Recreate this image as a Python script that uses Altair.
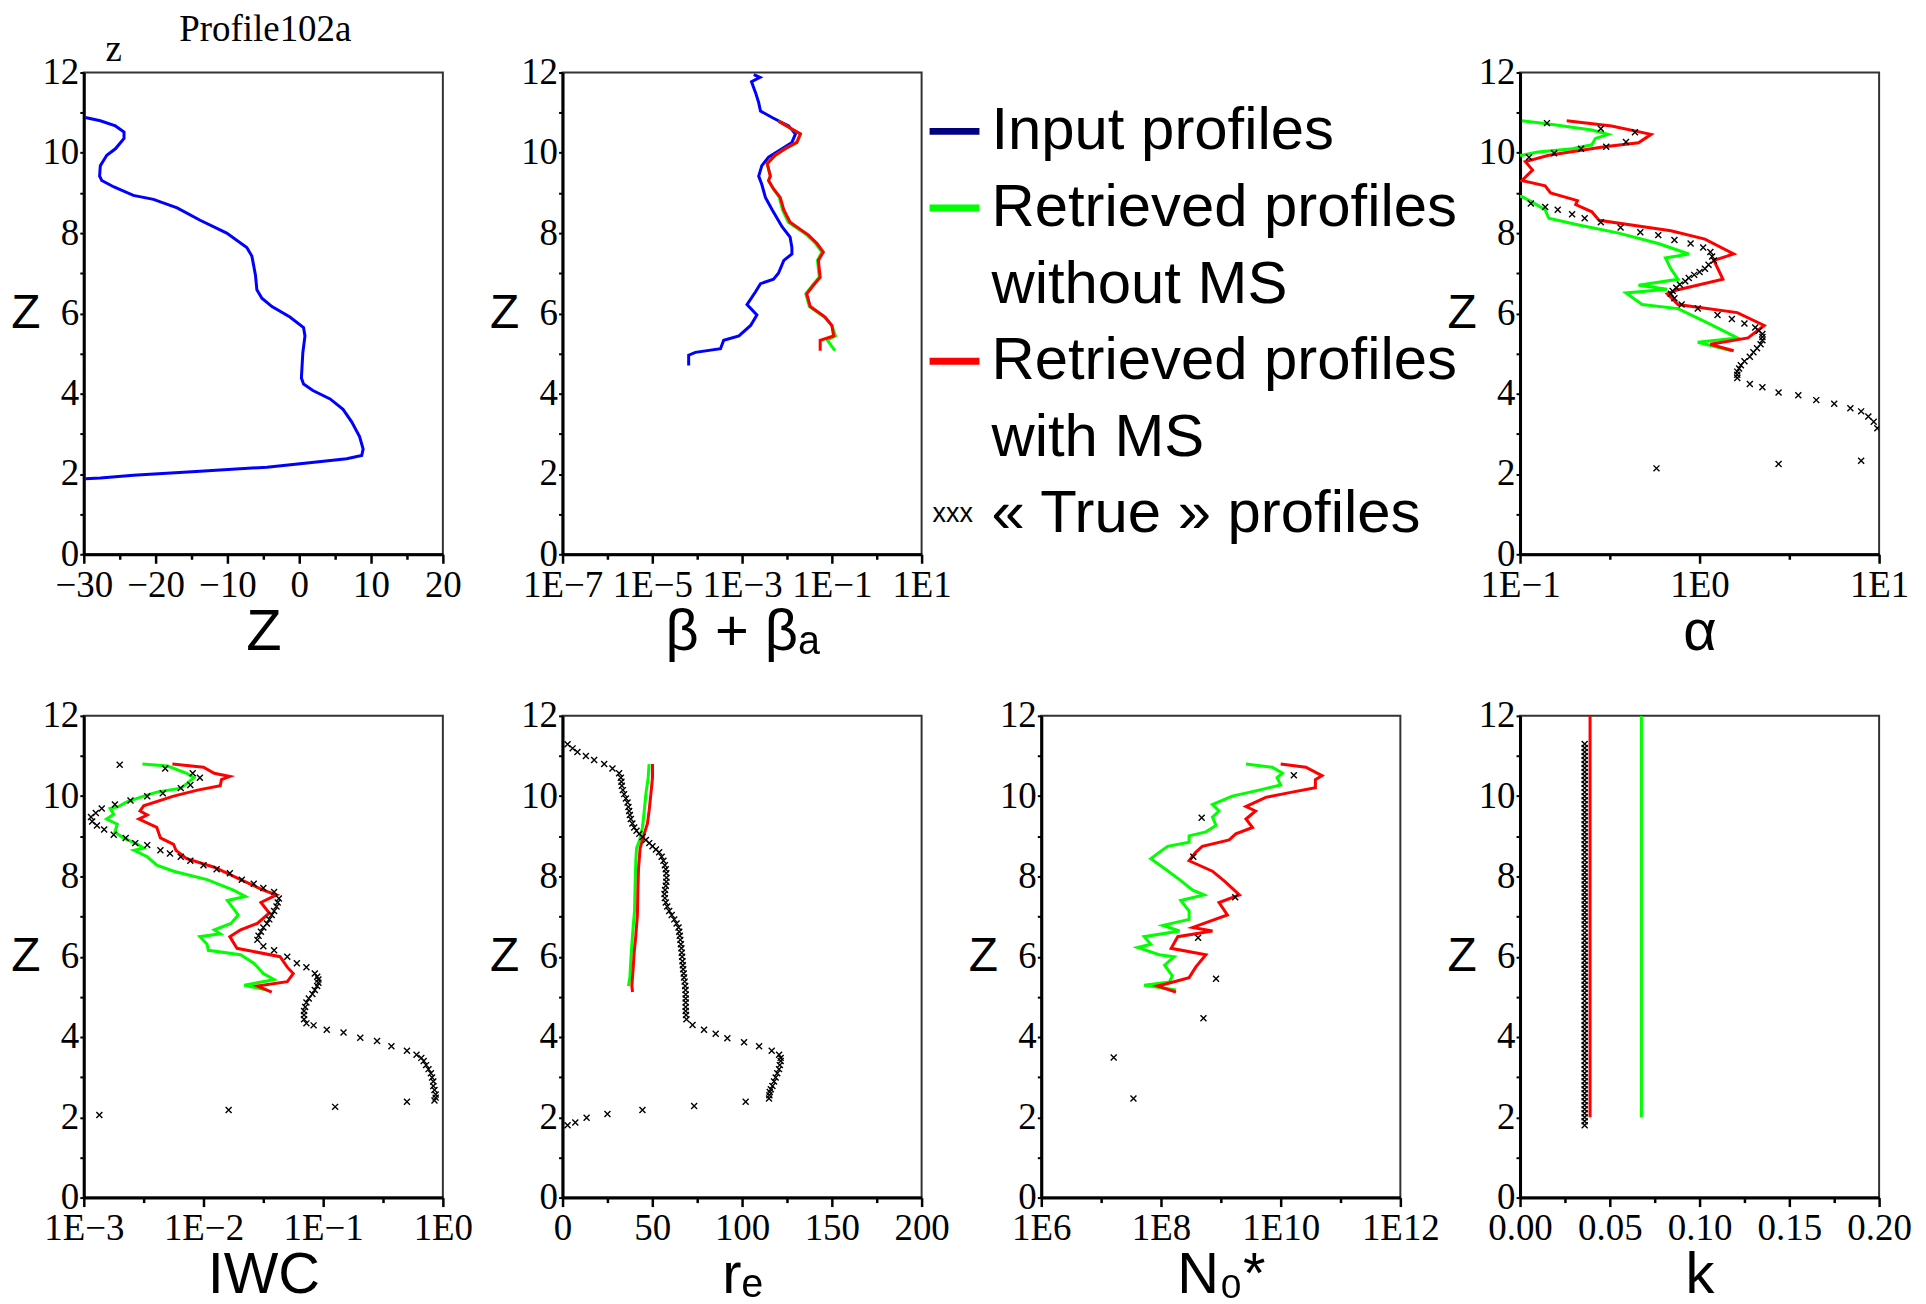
import altair as alt
import pandas as pd

# ---------------- data (z in km, value) ----------------
# Panel 1: reflectivity Z (dBZ), input profile
Z_input = [(10.88,-29.8),(10.80,-27.7),(10.67,-25.6),(10.52,-24.4),(10.36,-24.4),(10.10,-25.6),(9.94,-26.8),
           (9.68,-27.7),(9.42,-27.8),(9.31,-27.5),(9.15,-25.8),(8.94,-23.1),(8.84,-20.3),(8.63,-17.0),(8.32,-13.8),
           (8.00,-10.1),(7.64,-7.3),(7.43,-6.6),(6.96,-6.1),(6.59,-5.9),(6.38,-5.2),(6.17,-3.8),(5.91,-1.3),
           (5.65,0.6),(5.44,0.8),(5.02,0.5),(4.39,0.3),(4.24,0.6),(4.08,1.9),(3.87,4.3),(3.61,6.1),(3.30,7.3),
           (2.93,8.4),(2.62,8.9),(2.46,8.7),(2.38,6.6),(2.30,2.4),(2.17,-4.5),(2.07,-13.8),(1.97,-23.1),
           (1.90,-27.7),(1.88,-29.8)]

# Panel 2: log10(beta + beta_a)
beta_input = [(11.95,-2.74),(11.88,-2.60),(11.77,-2.79),(11.50,-2.70),(11.25,-2.63),(11.04,-2.59),(10.88,-2.33),
              (10.80,-2.19),(10.67,-1.96),(10.47,-1.81),(10.26,-1.89),(10.10,-2.11),(9.89,-2.41),(9.68,-2.56),
              (9.42,-2.63),(9.21,-2.56),(8.89,-2.48),(8.58,-2.33),(8.16,-2.11),(7.90,-1.93),(7.64,-1.89),
              (7.48,-1.89),(7.32,-2.07),(7.00,-2.19),(6.85,-2.30),(6.74,-2.59),(6.54,-2.70),(6.22,-2.89),
              (5.96,-2.67),(5.70,-2.81),(5.44,-3.07),(5.33,-3.41),(5.12,-3.48),(5.03,-4.04),(4.96,-4.19),(4.70,-4.19)]
beta_no_ms = [(10.79,-2.19),(10.62,-1.93),(10.47,-1.70),(10.26,-1.78),(10.10,-2.04),(9.94,-2.26),(9.73,-2.44),
              (9.42,-2.37),(9.31,-2.41),(9.10,-2.30),(8.89,-2.17),(8.58,-2.10),(8.27,-1.97),(7.95,-1.55),
              (7.74,-1.36),(7.53,-1.22),(7.32,-1.32),(6.90,-1.28),(6.70,-1.43),(6.49,-1.58),(6.17,-1.50),
              (5.91,-1.17),(5.70,-1.00),(5.44,-0.92),(5.33,-1.10),(5.07,-0.93)]
beta_ms = [(10.79,-2.19),(10.62,-1.93),(10.47,-1.70),(10.26,-1.78),(10.10,-2.04),(9.94,-2.26),(9.73,-2.44),
           (9.42,-2.37),(9.31,-2.41),(9.10,-2.30),(8.89,-2.15),(8.58,-2.07),(8.27,-1.93),(7.95,-1.52),
           (7.74,-1.33),(7.53,-1.19),(7.32,-1.30),(6.90,-1.26),(6.70,-1.41),(6.49,-1.56),(6.17,-1.48),
           (5.91,-1.15),(5.70,-1.00),(5.44,-0.96),(5.33,-1.26),(5.07,-1.26)]

# Panel 4: log10(alpha)
alpha_no_ms = [(10.80,-0.99),(10.72,-0.84),(10.57,-0.60),(10.46,-0.51),(10.36,-0.58),(10.20,-0.60),(10.10,-0.71),
               (10.02,-0.90),(9.94,-0.99),(9.85,-1.30),(9.00,-1.30),(8.91,-0.99),(8.79,-0.94),(8.58,-0.86),
               (8.37,-0.84),(8.21,-0.68),(8.00,-0.45),(7.74,-0.23),(7.48,-0.06),(7.38,-0.19),(7.11,-0.16),
               (6.85,-0.12),(6.70,-0.34),(6.60,-0.18),(6.51,-0.41),(6.22,-0.32),(6.12,-0.12),(5.75,0.05),
               (5.39,0.21),(5.28,-0.01),(5.07,0.18)]
alpha_ms = [(10.80,-0.74),(10.67,-0.49),(10.46,-0.27),(10.25,-0.34),(10.15,-0.53),(9.94,-0.84),(9.78,-0.97),
            (9.57,-0.93),(9.31,-0.99),(9.18,-0.86),(9.00,-0.83),(8.81,-0.68),(8.71,-0.69),(8.53,-0.60),
            (8.32,-0.56),(8.06,-0.16),(7.85,0.03),(7.48,0.19),(7.32,0.08),(6.85,0.13),(6.59,-0.12),
            (6.49,-0.18),(6.22,-0.12),(6.02,0.21),(5.70,0.36),(5.39,0.27),(5.23,0.06),(5.07,0.19)]
alpha_true = [(10.74,-0.85),(10.60,-0.55),(10.51,-0.36),(10.27,-0.41),(10.15,-0.52),(10.10,-0.66),(9.99,-0.81),
              (9.89,-0.95),(8.74,-0.94),(8.65,-0.86),(8.58,-0.79),(8.47,-0.71),(8.37,-0.64),(8.27,-0.55),
              (8.14,-0.44),(8.02,-0.33),(7.95,-0.23),(7.83,-0.14),(7.74,-0.05),(7.64,0.02),(7.53,0.06),
              (7.42,0.07),(7.32,0.08),(7.21,0.05),(7.11,0.03),(7.03,0.00),(6.96,-0.03),(6.88,-0.06),(6.80,-0.08),
              (6.72,-0.11),(6.64,-0.13),(6.56,-0.15),(6.49,-0.16),(6.38,-0.14),(6.22,-0.10),(6.12,-0.01),
              (5.96,0.10),(5.86,0.18),(5.75,0.25),(5.65,0.31),(5.57,0.33),(5.49,0.35),(5.41,0.35),(5.33,0.35),
              (5.23,0.34),(5.13,0.32),(5.03,0.30),(4.92,0.28),(4.81,0.25),(4.71,0.23),(4.63,0.22),(4.55,0.21),
              (4.47,0.21),(4.39,0.21),(4.24,0.28),(4.16,0.35),(4.03,0.44),(3.96,0.55),(3.84,0.65),(3.75,0.75),
              (3.64,0.84),(3.56,0.90),(3.43,0.94),(3.30,0.97),(3.14,0.99),(2.33,0.90),(2.25,0.44),(2.14,-0.24)]

# Panel 5: log10(IWC)
iwc_no_ms = [(10.80,-2.51),(10.75,-2.30),(10.57,-2.14),(10.46,-2.08),(10.31,-2.14),(10.20,-2.19),(10.10,-2.39),
             (10.00,-2.50),(9.86,-2.64),(9.74,-2.71),(9.69,-2.78),(9.55,-2.75),(9.43,-2.81),(9.30,-2.72),
             (9.11,-2.74),(8.96,-2.67),(8.80,-2.55),(8.70,-2.50),(8.65,-2.58),(8.49,-2.47),(8.28,-2.39),
             (8.13,-2.25),(7.92,-1.97),(7.66,-1.75),(7.50,-1.65),(7.40,-1.80),(7.04,-1.71),(6.83,-1.77),
             (6.67,-1.91),(6.57,-1.86),(6.50,-2.03),(6.31,-1.97),(6.16,-1.96),(6.05,-1.69),(5.84,-1.58),
             (5.58,-1.50),(5.43,-1.41),(5.29,-1.66),(5.17,-1.47)]
iwc_ms = [(10.80,-2.26),(10.72,-2.00),(10.57,-1.91),(10.49,-1.78),(10.41,-1.85),(10.26,-1.86),(10.15,-2.05),
          (10.00,-2.25),(9.76,-2.50),(9.63,-2.53),(9.53,-2.47),(9.43,-2.54),(9.22,-2.39),(8.96,-2.36),
          (8.80,-2.25),(8.65,-2.23),(8.44,-2.14),(8.23,-1.91),(7.92,-1.69),(7.66,-1.50),(7.54,-1.39),
          (7.35,-1.52),(7.09,-1.45),(6.83,-1.55),(6.67,-1.69),(6.50,-1.78),(6.21,-1.72),(6.00,-1.36),
          (5.74,-1.30),(5.58,-1.25),(5.38,-1.30),(5.27,-1.55),(5.12,-1.43)]
iwc_true = [(10.78,-2.70),(10.69,-2.32),(10.57,-2.09),(10.46,-2.03),(10.28,-2.11),(10.20,-2.19),(10.07,-2.34),
            (10.00,-2.47),(9.89,-2.61),(9.79,-2.74),(9.69,-2.85),(9.58,-2.90),(9.48,-2.94),(9.37,-2.93),
            (9.27,-2.89),(9.17,-2.83),(9.04,-2.75),(8.96,-2.65),(8.83,-2.57),(8.78,-2.47),(8.65,-2.36),
            (8.57,-2.28),(8.49,-2.19),(8.39,-2.11),(8.28,-2.00),(8.18,-1.89),(8.08,-1.78),(7.92,-1.68),
            (7.82,-1.58),(7.71,-1.50),(7.61,-1.41),(7.45,-1.37),(7.35,-1.38),(7.25,-1.39),(7.14,-1.41),
            (7.04,-1.43),(6.93,-1.45),(6.83,-1.47),(6.73,-1.50),(6.62,-1.52),(6.52,-1.54),(6.42,-1.55),
            (6.26,-1.50),(6.16,-1.41),(6.00,-1.30),(5.84,-1.22),(5.74,-1.14),(5.58,-1.07),(5.50,-1.05),
            (5.43,-1.04),(5.35,-1.04),(5.27,-1.05),(5.17,-1.07),(5.07,-1.09),(4.96,-1.12),(4.86,-1.14),
            (4.75,-1.15),(4.65,-1.16),(4.55,-1.16),(4.44,-1.16),(4.34,-1.14),(4.29,-1.08),(4.18,-0.97),
            (4.11,-0.83),(3.98,-0.69),(3.90,-0.55),(3.77,-0.43),(3.66,-0.30),(3.56,-0.22),(3.48,-0.18),
            (3.40,-0.16),(3.30,-0.14),(3.20,-0.12),(3.10,-0.10),(2.99,-0.09),(2.89,-0.08),(2.78,-0.08),
            (2.68,-0.07),(2.57,-0.06),(2.49,-0.06),(2.42,-0.07),(2.39,-0.30),(2.26,-0.90),(2.18,-1.79),
            (2.06,-2.87)]

# Panel 6: effective radius re
re_no_ms = [(10.80,48.2),(10.46,47.7),(10.05,46.4),(9.63,45.5),(9.22,44.5),(8.91,43.0),(8.70,41.2),(8.39,40.8),
            (7.77,40.4),(7.14,40.1),(6.73,39.3),(6.31,38.6),(5.89,38.0),(5.48,37.5),(5.27,36.7)]
re_ms = [(10.80,50.1),(10.46,50.1),(10.05,49.2),(9.63,48.2),(9.32,47.3),(9.06,45.5),(8.70,43.2),(8.18,42.3),
         (7.56,41.9),(7.04,41.7),(6.52,40.8),(6.10,39.9),(5.69,39.3),(5.27,38.6),(5.12,39.0)]
re_true = [(11.29,2.8),(11.19,5.6),(11.10,8.3),(11.00,13.0),(10.90,17.6),(10.80,23.2),(10.69,27.8),(10.57,31.5),
           (10.46,32.5),(10.36,32.8),(10.26,33.0),(10.15,33.6),(10.05,34.3),(9.94,35.3),(9.84,36.2),(9.73,36.7),
           (9.63,37.1),(9.53,37.5),(9.43,38.0),(9.32,38.9),(9.22,39.9),(9.14,41.2),(9.06,42.7),(8.98,44.5),
           (8.91,46.4),(8.83,48.3),(8.75,50.1),(8.67,52.0),(8.60,53.8),(8.49,55.2),(8.39,56.2),(8.28,57.0),
           (8.18,57.5),(8.08,57.8),(7.97,57.9),(7.87,57.8),(7.77,57.5),(7.66,57.1),(7.56,56.8),(7.46,57.0),
           (7.35,57.5),(7.25,58.3),(7.14,59.4),(7.04,60.8),(6.93,62.2),(6.83,63.5),(6.73,64.6),(6.62,65.0),
           (6.52,65.3),(6.42,65.6),(6.31,65.9),(6.21,66.2),(6.10,66.4),(6.00,66.6),(5.89,66.8),(5.79,67.0),
           (5.69,67.2),(5.58,67.5),(5.48,67.7),(5.38,68.0),(5.27,68.3),(5.17,68.5),(5.06,68.6),(4.96,68.6),
           (4.86,68.6),(4.75,68.6),(4.65,68.6),(4.55,68.8),(4.44,69.0),(4.30,72.4),(4.18,78.8),(4.08,85.3),
           (3.97,91.8),(3.87,101.1),(3.77,109.5),(3.66,116.5),(3.56,120.6),(3.48,121.5),(3.40,121.5),
           (3.30,121.0),(3.20,120.6),(3.10,119.6),(2.99,118.7),(2.89,117.8),(2.78,116.9),(2.70,116.0),
           (2.63,115.4),(2.55,115.2),(2.47,115.0),(2.39,102.0),(2.28,73.3),(2.18,44.5),(2.08,25.0),
           (1.99,13.4),(1.87,7.1),(1.80,2.8)]

# Panel 7: log10(N0*)
n0_no_ms = [(10.80,9.42),(10.72,9.86),(10.57,10.03),(10.46,9.94),(10.28,10.00),(10.15,9.64),(10.00,9.19),
            (9.79,8.86),(9.63,8.97),(9.48,8.86),(9.27,8.92),(9.11,8.75),(9.01,8.47),(8.85,8.47),(8.75,8.11),
            (8.60,7.97),(8.44,7.83),(8.23,8.03),(7.92,8.31),(7.66,8.53),(7.54,8.72),(7.40,8.33),(7.14,8.47),
            (6.93,8.47),(6.78,8.03),(6.64,8.31),(6.50,7.72),(6.31,7.83),(6.23,7.61),(6.05,7.97),(6.00,8.22),
            (5.79,8.06),(5.52,8.19),(5.37,8.14),(5.29,7.72),(5.17,8.25)]
n0_ms = [(10.80,10.00),(10.72,10.42),(10.51,10.69),(10.41,10.58),(10.21,10.58),(10.10,10.19),(9.97,9.75),
         (9.74,9.42),(9.63,9.58),(9.43,9.42),(9.22,9.53),(9.06,9.25),(8.91,9.14),(8.75,8.69),(8.60,8.58),
         (8.39,8.47),(8.13,8.86),(7.86,9.08),(7.54,9.31),(7.35,8.97),(7.04,9.11),(6.73,8.53),(6.64,8.86),
         (6.50,8.28),(6.21,8.17),(6.05,8.75),(5.74,8.58),(5.48,8.47),(5.32,8.08),(5.27,7.94),(5.12,8.25)]
n0_true = [(10.52,10.22),(9.46,8.68),(8.49,8.54),(7.48,9.24),(6.47,8.62),(5.45,8.92),(4.47,8.71),(3.49,7.21),(2.47,7.54)]

# Panel 8: k
k_no_ms = [(2.0,0.0676),(12.0,0.0676)]
k_ms = [(2.0,0.039),(12.0,0.039)]
k_true_value = 0.036
k_true_z = [1.8,1.9,2.0,2.1,2.2,2.3,2.4,2.5,2.6,2.7,2.8,2.9,3.0,3.1,3.2,3.3,3.4,3.5,3.6,3.7,3.8,3.9,4.0,4.1,
            4.2,4.3,4.4,4.5,4.6,4.7,4.8,4.9,5.0,5.1,5.2,5.3,5.4,5.5,5.6,5.7,5.8,5.9,6.0,6.1,6.2,6.3,6.4,6.5,
            6.6,6.7,6.8,6.9,7.0,7.1,7.2,7.3,7.4,7.5,7.6,7.7,7.8,7.9,8.0,8.1,8.2,8.3,8.4,8.5,8.6,8.7,8.8,8.9,
            9.0,9.1,9.2,9.3,9.4,9.5,9.6,9.7,9.8,9.9,10.0,10.1,10.2,10.3,10.4,10.5,10.6,10.7,10.8,10.9,11.0,
            11.1,11.2,11.3]

legend_labels = ["Input profiles", "Retrieved profiles", "without MS", "Retrieved profiles", "with MS",
                 "\u00ab True \u00bb profiles"]
legend_line_rows = [0, 1, 3]

# ---------------- styling ----------------
BLUE, GREEN, RED, NAVY = "#0000ff", "#00ff00", "#ff0000", "#000080"
W, H = 360, 483
XMARK = "M-1,-1L1,1M-1,1L1,-1"
SERIF, SANS = "Liberation Serif", "Liberation Sans"


def df_of(pairs):
    return pd.DataFrame({"z": [p[0] for p in pairs], "v": [p[1] for p in pairs],
                         "i": list(range(len(pairs)))})


YS = alt.Scale(domain=[0, 12], nice=False, zero=False)
Y_AXIS = alt.Axis(title="Z", titleAngle=0, titleAlign="right", titleBaseline="middle",
                  titleFont=SANS, titleFontSize=48, titleFontWeight="normal", titleColor="black",
                  titlePadding=2, values=list(range(13)),
                  labelExpr="datum.value % 2 == 0 ? format(datum.value, 'd') : ''",
                  labelFont=SERIF, labelFontSize=37, labelColor="black", labelPadding=1,
                  tickSize=4, tickWidth=2, tickColor="black", domainColor="black", domainWidth=3,
                  grid=False, labelOverlap=False, labelFlush=False)


def x_axis(title, values, major, label):
    return alt.Axis(title=title, values=values, labelExpr=f"({major}) ? {label} : ''",
                    tickSize={"condition": {"test": major, "value": 9}, "value": 5},
                    tickWidth=2.5, tickColor="black", domainColor="black", domainWidth=3,
                    labelFont=SERIF, labelFontSize=37, labelColor="black", labelPadding=4,
                    titleFont=SANS, titleFontSize=58, titleFontWeight="normal", titleColor="black",
                    titlePadding=0, grid=False, labelOverlap=False, labelFlush=False)


def panel(domain, axis, lines, marks=None, mark_df=None, extra=()):
    xs = alt.Scale(domain=domain, nice=False, zero=False)
    layers = []
    for pairs, color in lines:
        layers.append(alt.Chart(df_of(pairs)).mark_line(strokeWidth=3, clip=True, color=color).encode(
            x=alt.X("v:Q", scale=xs, axis=axis), y=alt.Y("z:Q", scale=YS, axis=Y_AXIS), order="i:Q"))
    if marks is not None or mark_df is not None:
        d = mark_df if mark_df is not None else df_of(marks)
        layers.append(alt.Chart(d).mark_point(shape=XMARK, size=36, strokeWidth=1.4, color="black",
                                             filled=False, opacity=1, clip=True).encode(
            x=alt.X("v:Q", scale=xs, axis=axis), y=alt.Y("z:Q", scale=YS, axis=Y_AXIS)))
    layers.extend(extra)
    return alt.layer(*layers).properties(width=W, height=H)


LOGLAB = "'1E' + format(datum.value, 'd')"

# annotations of the first panel: profile name and Maple's vertical-axis name
title_note = alt.Chart(alt.Data(values=[{"t": "Profile102a"}])).mark_text(
    font=SERIF, fontSize=37, align="center", baseline="alphabetic", color="black").encode(
    x=alt.value(182), y=alt.value(-32), text="t:N")
z_note = alt.Chart(alt.Data(values=[{"t": "z"}])).mark_text(
    font=SERIF, fontSize=37, align="center", baseline="alphabetic", color="black").encode(
    x=alt.value(30), y=alt.value(-12), text="t:N")

p1 = panel([-30, 20], x_axis("Z", list(range(-30, 21, 5)), "datum.value % 10 == 0", "format(datum.value, 'd')"),
           [(Z_input, BLUE)], extra=(title_note, z_note))

p2 = panel([-7, 1], x_axis("\u03b2 + \u03b2\u2090", list(range(-7, 2)), "(datum.value + 7) % 2 == 0", LOGLAB),
           [(beta_input, BLUE), (beta_no_ms, GREEN), (beta_ms, RED)])

p4 = panel([-1, 1], x_axis("\u03b1", [-1, -0.5, 0, 0.5, 1], "datum.value % 1 == 0", LOGLAB),
           [(alpha_no_ms, GREEN), (alpha_ms, RED)], marks=alpha_true)

p5 = panel([-3, 0], x_axis("IWC", [-3, -2.5, -2, -1.5, -1, -0.5, 0], "datum.value % 1 == 0", LOGLAB),
           [(iwc_no_ms, GREEN), (iwc_ms, RED)], marks=iwc_true)

p6 = panel([0, 200], x_axis("r\u2091", list(range(0, 201, 25)), "datum.value % 50 == 0", "format(datum.value, 'd')"),
           [(re_no_ms, GREEN), (re_ms, RED)], marks=re_true)

p7 = panel([6, 12], x_axis("N\u2080*", list(range(6, 13)), "datum.value % 2 == 0", LOGLAB),
           [(n0_no_ms, GREEN), (n0_ms, RED)], marks=n0_true)

k_df = pd.DataFrame({"z": k_true_z, "v": [k_true_value] * len(k_true_z)})
p8 = panel([0, 0.2], x_axis("k", [0, 0.025, 0.05, 0.075, 0.1, 0.125, 0.15, 0.175, 0.2],
                            "round(datum.value * 1000) % 50 == 0", "format(datum.value, '.2f')"),
           [(k_no_ms, GREEN), (k_ms, RED)], mark_df=k_df)

# ---------------- legend panel ----------------
LY = alt.Y("row:Q", scale=alt.Scale(domain=[-0.768, 5.521], range=[0, H]), axis=None)
leg_text = pd.DataFrame({"row": list(range(len(legend_labels))), "label": legend_labels})
leg_lines = pd.DataFrame({"row": legend_line_rows, "c": [NAVY, GREEN, RED]})
leg_mark = pd.DataFrame({"row": [5], "t": ["xxx"]})

legend = alt.layer(
    alt.Chart(leg_lines).mark_rule(strokeWidth=7).encode(
        x=alt.value(-112), x2=alt.value(-62), y=LY, color=alt.Color("c:N", scale=None)),
    alt.Chart(leg_text).mark_text(align="left", baseline="middle", font=SANS, fontSize=60, color="black").encode(
        x=alt.value(-50), y=LY, text="label:N"),
    alt.Chart(leg_mark).mark_text(align="left", baseline="middle", font=SANS, fontSize=27, color="black").encode(
        x=alt.value(-109), y=LY, text="t:N"),
).properties(width=W, height=H, view=alt.ViewBackground(stroke="transparent"))

chart = alt.concat(p1, p2, legend, p4, p5, p6, p7, p8, columns=4,
                   spacing={"row": 162, "column": 120}, bounds="flush").properties(
    padding={"left": 1, "top": 0, "right": 5, "bottom": 5}, background="white"
).configure_view(stroke="#333333", strokeWidth=2)

chart.save("out.html", embed_options={"renderer": "svg", "actions": False})
